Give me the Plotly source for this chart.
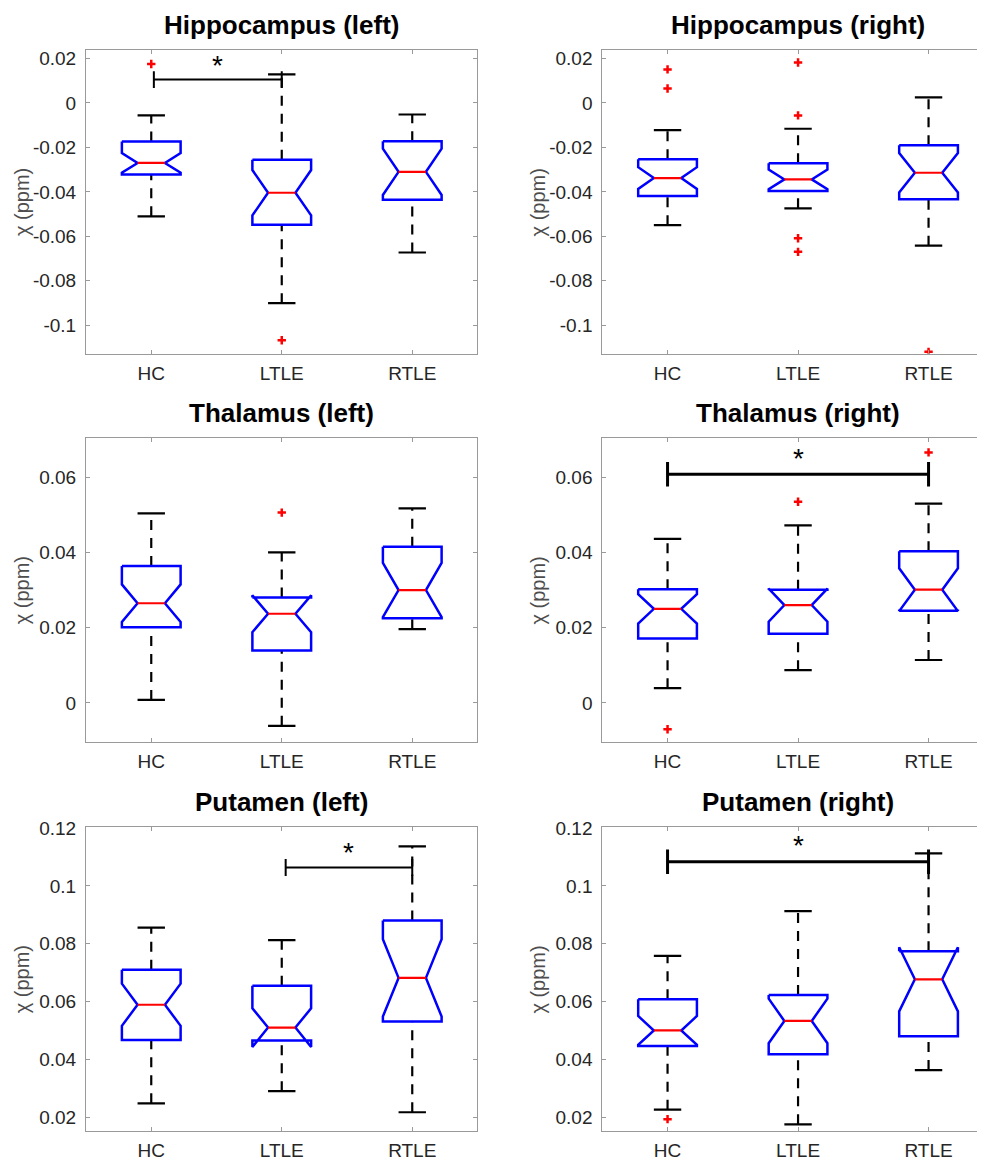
import plotly.graph_objects as go

# ---------------- data ----------------
GROUPS = ["HC", "LTLE", "RTLE"]
TITLES = ["Hippocampus (left)", "Hippocampus (right)",
          "Thalamus (left)", "Thalamus (right)",
          "Putamen (left)", "Putamen (right)"]

# Hippocampus (left)
hipL_upper = [-0.0056, 0.0129, -0.0052]
hipL_q3 = [-0.0173, -0.0255, -0.0172]
hipL_med = [-0.0270, -0.0404, -0.0310]
hipL_q1 = [-0.0322, -0.0548, -0.0436]
hipL_lower = [-0.0510, -0.0901, -0.0673]
hipL_notch = [0.0044, 0.0102, 0.0104]
hipL_out = [[0.0175], [-0.1068], []]

# Hippocampus (right)
hipR_upper = [-0.0122, -0.0116, 0.0025]
hipR_q3 = [-0.0253, -0.0271, -0.0190]
hipR_med = [-0.0338, -0.0344, -0.0314]
hipR_q1 = [-0.0419, -0.0396, -0.0433]
hipR_lower = [-0.0550, -0.0474, -0.0642]
hipR_notch = [0.0049, 0.0044, 0.0089]
hipR_out = [[0.0151, 0.0065], [0.0182, -0.0056, -0.0609, -0.0670], [-0.1120]]

# Thalamus (left)
thaL_upper = [0.0504, 0.0400, 0.0517]
thaL_q3 = [0.0364, 0.0280, 0.0415]
thaL_med = [0.0265, 0.0237, 0.0300]
thaL_q1 = [0.0201, 0.0139, 0.0225]
thaL_lower = [0.0008, -0.0061, 0.0196]
thaL_notch = [0.0050, 0.0049, 0.0072]
thaL_out = [[], [0.0506], []]

# Thalamus (right)
thaR_upper = [0.0436, 0.0472, 0.0530]
thaR_q3 = [0.0302, 0.0301, 0.0403]
thaR_med = [0.0250, 0.0260, 0.0301]
thaR_q1 = [0.0171, 0.0184, 0.0245]
thaR_lower = [0.0039, 0.0087, 0.0114]
thaR_notch = [0.0039, 0.0044, 0.0057]
thaR_out = [[-0.0070], [0.0535], [0.0666]]

# Putamen (left)
putL_upper = [0.0856, 0.0813, 0.1137]
putL_q3 = [0.0710, 0.0655, 0.0881]
putL_med = [0.0589, 0.0510, 0.0682]
putL_q1 = [0.0467, 0.0465, 0.0531]
putL_lower = [0.0248, 0.0290, 0.0217]
putL_notch = [0.0073, 0.0067, 0.0134]
putL_out = [[], [], []]

# Putamen (right)
putR_upper = [0.0758, 0.0913, 0.1113]
putR_q3 = [0.0608, 0.0623, 0.0774]
putR_med = [0.0500, 0.0533, 0.0677]
putR_q1 = [0.0446, 0.0418, 0.0480]
putR_lower = [0.0226, 0.0175, 0.0363]
putR_notch = [0.0050, 0.0077, 0.0111]
putR_out = [[0.0193], [], []]

# significance bars
SIG_PANEL = [0, 3, 4, 5]
SIG_FROM = ["HC", "HC", "LTLE", "HC"]
SIG_TO = ["LTLE", "RTLE", "RTLE", "RTLE"]
SIG_Y = [0.0105, 0.0608, 0.1064, 0.1084]
SIG_STAR_Y = [0.0170, 0.0650, 0.1116, 0.1141]

# y ticks per row
ROW_TICKS = [[-0.1, -0.08, -0.06, -0.04, -0.02, 0, 0.02],
             [0, 0.02, 0.04, 0.06],
             [0.02, 0.04, 0.06, 0.08, 0.1, 0.12]]
ROW_TICKTEXT = [["-0.1", "-0.08", "-0.06", "-0.04", "-0.02", "0", "0.02"],
                ["0", "0.02", "0.04", "0.06"],
                ["0.02", "0.04", "0.06", "0.08", "0.1", "0.12"]]
ROW_RANGE = [[-0.1129, 0.0237], [-0.0105, 0.0704], [0.0151, 0.1203]]
Y_LABEL = "χ (ppm)"

PANELS = [
    (hipL_upper, hipL_q3, hipL_med, hipL_q1, hipL_lower, hipL_notch, hipL_out),
    (hipR_upper, hipR_q3, hipR_med, hipR_q1, hipR_lower, hipR_notch, hipR_out),
    (thaL_upper, thaL_q3, thaL_med, thaL_q1, thaL_lower, thaL_notch, thaL_out),
    (thaR_upper, thaR_q3, thaR_med, thaR_q1, thaR_lower, thaR_notch, thaR_out),
    (putL_upper, putL_q3, putL_med, putL_q1, putL_lower, putL_notch, putL_out),
    (putR_upper, putR_q3, putR_med, putR_q1, putR_lower, putR_notch, putR_out),
]

# ---------------- layout geometry / style ----------------
OFF = 8                     # page body margin
W, H = 969, 1153            # figure size so the page fits the window
COL_PX = [(86.0 - OFF, 477.0 - OFF), (602.3 - OFF, float(W))]
ROW_PX = [(41.7 - OFF, 349.0 - OFF), (434.3 - OFF, 742.3 - OFF), (828.3 - OFF, 1136.0 - OFF)]
UNIT_PX = 130.5
BOX_HW = 0.225
NOTCH_HW = 0.105
CAP_HW = 0.105
FONT = "Liberation Sans, Arial, sans-serif"
AXCOL = "#9a9a9a"
SIG_STYLE = [(2, 8.5), (3, 12.5), (2, 8.5), (3, 12.5)]  # (line width, end tick half px)
SIG_XOFF = [0.02, 0.0, 0.03, 0.0]

fig = go.Figure()
annotations = []
layout_axes = {}

for i, (up, q3, med, q1, lo, notch, outs) in enumerate(PANELS):
    r, c = divmod(i, 2)
    n = i + 1
    xa = "x" if n == 1 else f"x{n}"
    ya = "y" if n == 1 else f"y{n}"
    xs = list(range(1, len(GROUPS) + 1))

    # whiskers (dashed)
    wx, wy = [], []
    for k, x in enumerate(xs):
        wx += [x, x, None, x, x, None]
        wy += [q3[k], up[k], None, lo[k], q1[k], None]
    fig.add_trace(go.Scatter(x=wx, y=wy, mode="lines", xaxis=xa, yaxis=ya,
                             line=dict(color="black", width=2.2, dash="10px,8px"),
                             hoverinfo="skip", showlegend=False))
    # caps
    cx, cy = [], []
    for k, x in enumerate(xs):
        cx += [x - CAP_HW, x + CAP_HW, None, x - CAP_HW, x + CAP_HW, None]
        cy += [up[k], up[k], None, lo[k], lo[k], None]
    fig.add_trace(go.Scatter(x=cx, y=cy, mode="lines", xaxis=xa, yaxis=ya,
                             line=dict(color="black", width=2.2),
                             hoverinfo="skip", showlegend=False))
    # notched boxes
    bx, by = [], []
    for k, x in enumerate(xs):
        nt = med[k] + notch[k]
        nb = med[k] - notch[k]
        bx += [x - BOX_HW, x + BOX_HW, x + BOX_HW, x + NOTCH_HW, x + BOX_HW, x + BOX_HW,
               x - BOX_HW, x - BOX_HW, x - NOTCH_HW, x - BOX_HW, x - BOX_HW, None]
        by += [q3[k], q3[k], nt, med[k], nb, q1[k], q1[k], nb, med[k], nt, q3[k], None]
    fig.add_trace(go.Scatter(x=bx, y=by, mode="lines", xaxis=xa, yaxis=ya,
                             line=dict(color="#0000ff", width=2.5),
                             hoverinfo="skip", showlegend=False))
    # medians
    mx, my = [], []
    for k, x in enumerate(xs):
        mx += [x - NOTCH_HW, x + NOTCH_HW, None]
        my += [med[k], med[k], None]
    fig.add_trace(go.Scatter(x=mx, y=my, mode="lines", xaxis=xa, yaxis=ya,
                             line=dict(color="#ff0000", width=2.2),
                             hoverinfo="skip", showlegend=False))
    # outliers
    ox, oy = [], []
    for k, x in enumerate(xs):
        for v in outs[k]:
            ox.append(x)
            oy.append(v)
    if ox:
        fig.add_trace(go.Scatter(x=ox, y=oy, mode="markers", xaxis=xa, yaxis=ya,
                                 marker=dict(symbol="cross-thin", size=6, color="#ff0000",
                                             line=dict(color="#ff0000", width=2.5)),
                                 hoverinfo="skip", showlegend=False))

    # axes
    x0, x1 = COL_PX[c]
    y0, y1 = ROW_PX[r]
    tick_common = dict(ticks="inside", ticklen=4, tickcolor=AXCOL, tickwidth=1,
                       showline=True, linecolor=AXCOL, linewidth=1,
                       showgrid=False, zeroline=False, fixedrange=True,
                       tickfont=dict(family=FONT, size=19, color="#262626"))
    layout_axes["xaxis" if n == 1 else f"xaxis{n}"] = dict(
        domain=[x0 / W, x1 / W], range=[0.5, 0.5 + (x1 - x0) / UNIT_PX],
        tickmode="array", tickvals=xs, ticktext=GROUPS,
        anchor=ya, mirror="ticks", ticklabelstandoff=2, **tick_common)
    layout_axes["yaxis" if n == 1 else f"yaxis{n}"] = dict(
        domain=[1 - y1 / H, 1 - y0 / H], range=ROW_RANGE[r],
        tickmode="array", tickvals=ROW_TICKS[r], ticktext=ROW_TICKTEXT[r],
        anchor=xa, mirror=("ticks" if c == 0 else False), ticklabelstandoff=5,
        **tick_common)

    # title
    full_right = x0 + 3 * UNIT_PX
    annotations.append(dict(
        text=f"<b>{TITLES[i]}</b>", xref="paper", yref="paper",
        x=((x0 + full_right) / 2) / W, y=1 - y0 / H, xanchor="center", yanchor="bottom",
        yshift=8, showarrow=False, font=dict(family=FONT, size=26, color="black")))
    # y label
    annotations.append(dict(
        text=Y_LABEL, xref="paper", yref="paper",
        x=(x0 - 64) / W, y=1 - ((y0 + y1) / 2) / H, xanchor="center", yanchor="middle",
        textangle=-90, showarrow=False, font=dict(family=FONT, size=20, color="#4d4d4d")))

# significance bars
for j, p in enumerate(SIG_PANEL):
    r, c = divmod(p, 2)
    n = p + 1
    xa = "x" if n == 1 else f"x{n}"
    ya = "y" if n == 1 else f"y{n}"
    xa_ = GROUPS.index(SIG_FROM[j]) + 1 + SIG_XOFF[j]
    xb_ = GROUPS.index(SIG_TO[j]) + 1
    lw, tick_px = SIG_STYLE[j]
    y0, y1 = ROW_PX[r]
    yr = ROW_RANGE[r]
    dy = tick_px / (y1 - y0) * (yr[1] - yr[0])
    yv = SIG_Y[j]
    fig.add_trace(go.Scatter(
        x=[xa_, xa_, None, xa_, xb_, None, xb_, xb_],
        y=[yv - dy, yv + dy, None, yv, yv, None, yv - dy, yv + dy],
        mode="lines", xaxis=xa, yaxis=ya, line=dict(color="black", width=lw),
        hoverinfo="skip", showlegend=False))
    annotations.append(dict(
        text="*", xref=xa, yref=ya, x=(xa_ + xb_) / 2, y=SIG_STAR_Y[j],
        xanchor="center", yanchor="middle", yshift=0, showarrow=False,
        font=dict(family=FONT, size=28, color="black")))

fig.update_layout(
    width=W, height=H, margin=dict(l=0, r=0, t=0, b=0),
    plot_bgcolor="white", paper_bgcolor="white", showlegend=False,
    annotations=annotations, **layout_axes)

fig.write_html("out.html")
